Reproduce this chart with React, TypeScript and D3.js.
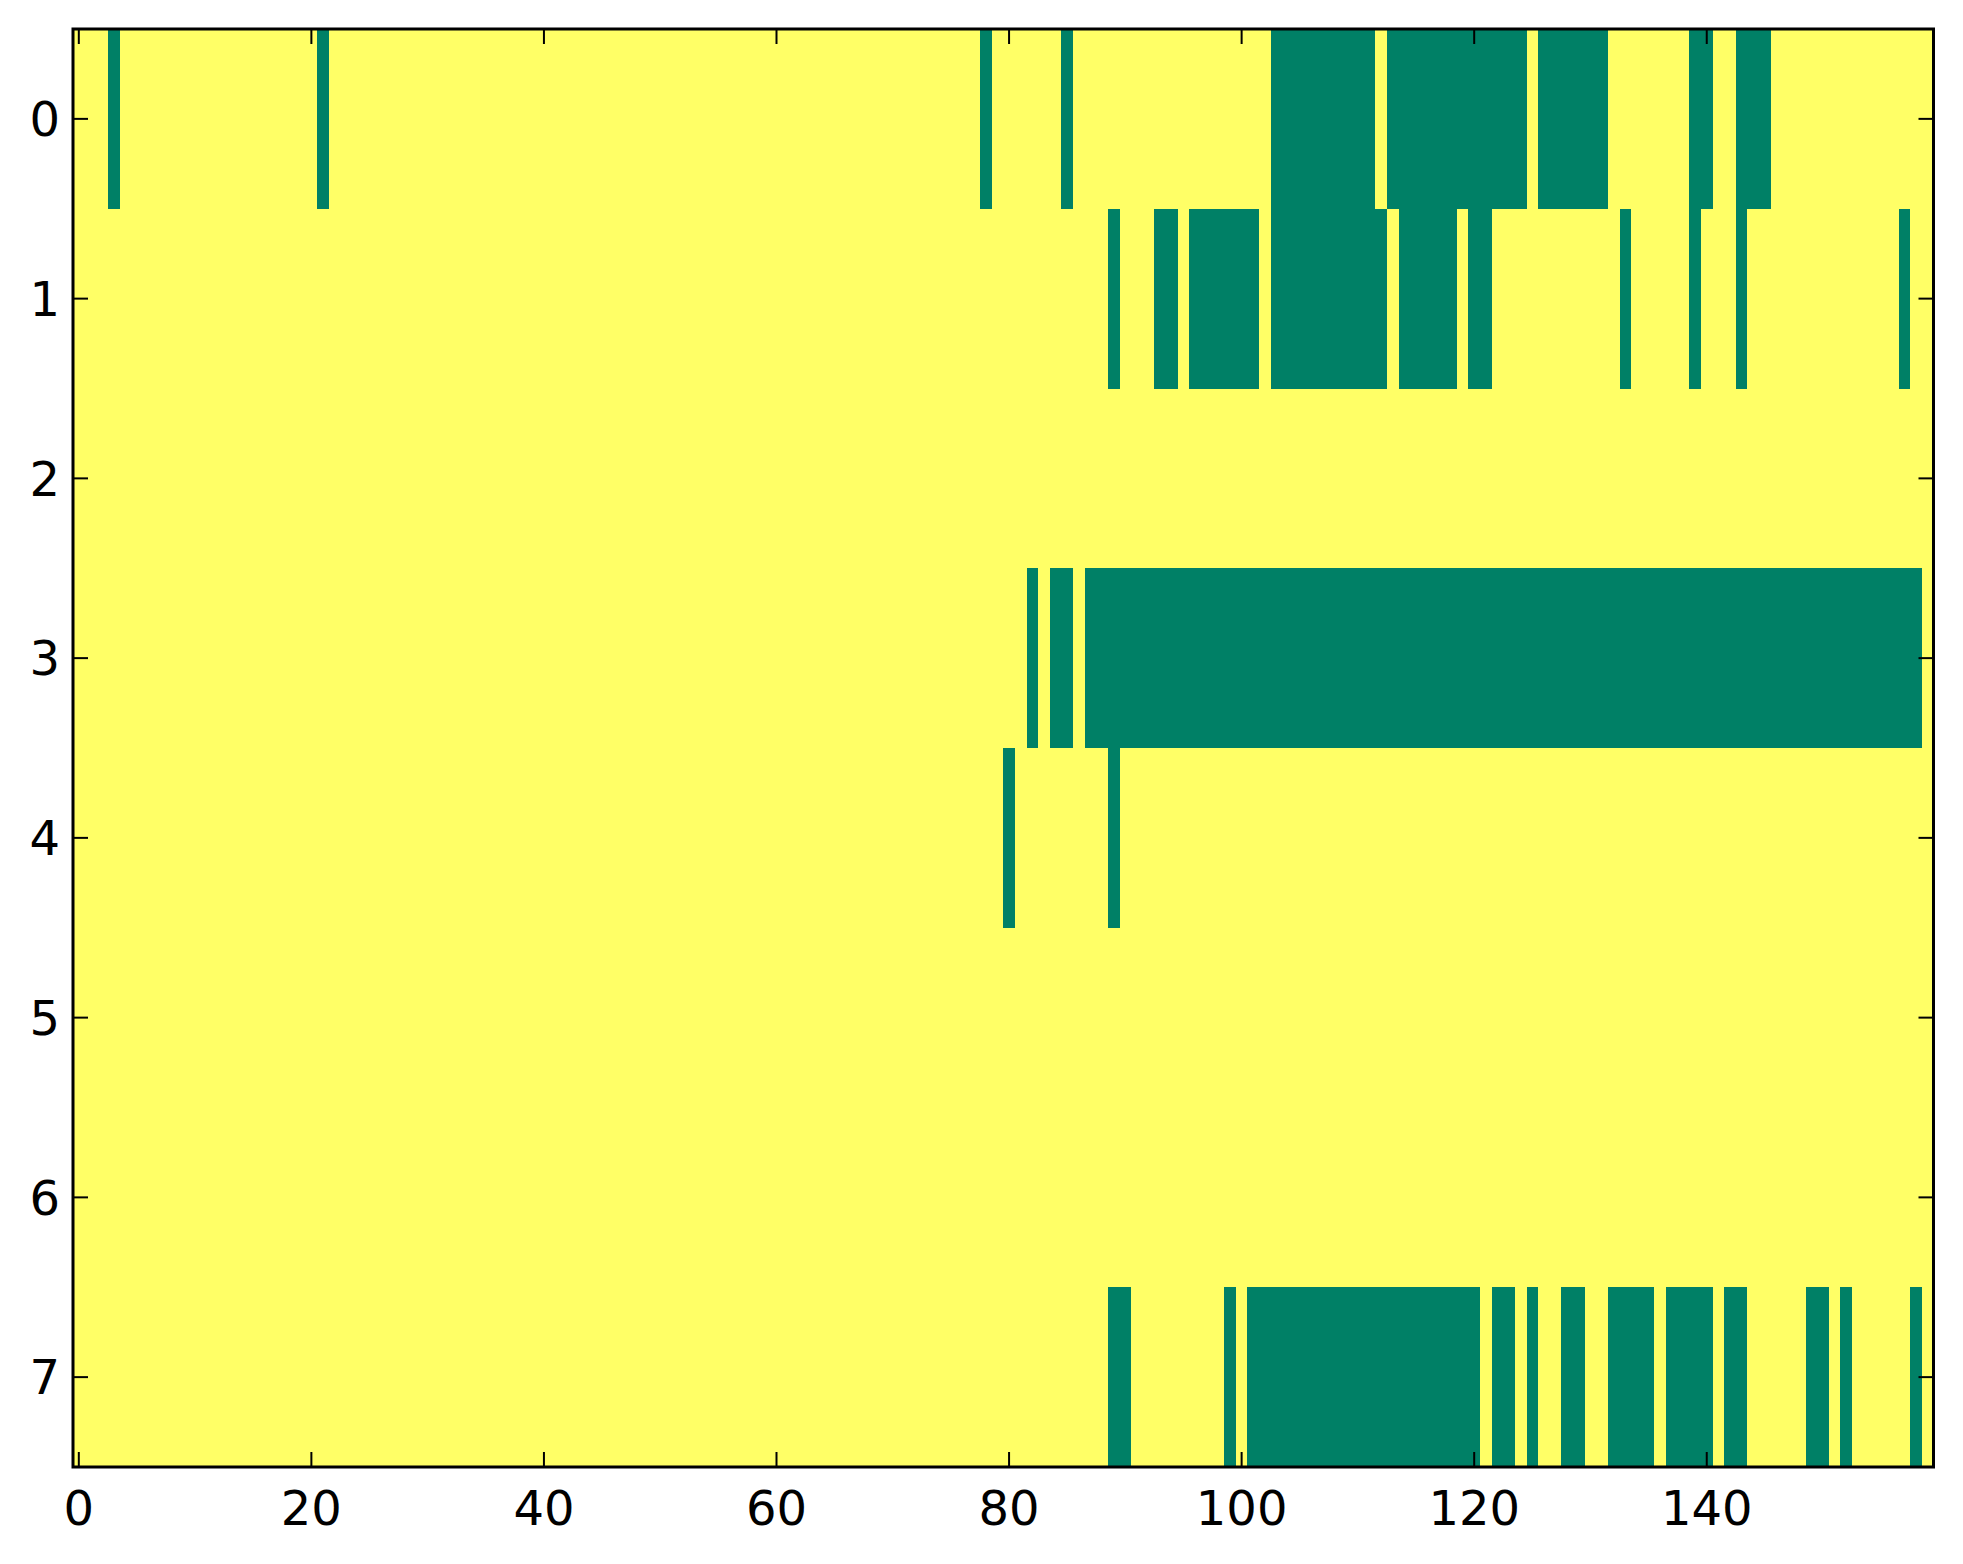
import React from 'react';
import * as d3 from 'd3';

const N_COLS = 160;
const rowLabels = [0, 1, 2, 3, 4, 5, 6, 7];
const xTicks = [0, 20, 40, 60, 80, 100, 120, 140];

// runs of columns with value 0 (green) per row, [start, end] inclusive
const row0 = [[3, 3], [21, 21], [78, 78], [85, 85], [103, 111], [113, 124], [126, 131], [139, 140], [143, 145]];
const row1 = [[89, 89], [93, 94], [96, 101], [103, 112], [114, 118], [120, 121], [133, 133], [139, 139], [143, 143], [157, 157]];
const row2: number[][] = [];
const row3 = [[82, 82], [84, 85], [87, 158]];
const row4 = [[80, 80], [89, 89]];
const row5: number[][] = [];
const row6: number[][] = [];
const row7 = [[89, 90], [99, 99], [101, 120], [122, 123], [125, 125], [128, 129], [132, 135], [137, 140], [142, 143], [149, 150], [152, 152], [158, 158]];
const zeroRuns = [row0, row1, row2, row3, row4, row5, row6, row7];

export default function App() {
  const W = 1963, H = 1564;
  const left = 73, right = 1933.5, top = 29, bottom = 1467;
  const x = d3.scaleLinear().domain([-0.5, N_COLS - 0.5]).range([left, right]);
  const y = d3.scaleLinear().domain([-0.5, 7.5]).range([top, bottom]);
  const color = (v: number) => (v === 0 ? '#008066' : '#ffff66');

  const matrix = rowLabels.map((r) => {
    const a = new Array(N_COLS).fill(1);
    zeroRuns[r].forEach(([s, e]) => {
      for (let c = s; c <= e; c++) a[c] = 0;
    });
    return a;
  });

  const tickLen = 15;
  const font = 'DejaVu Sans, sans-serif';

  return (
    <div style={{ position: 'absolute', left: 0, top: 0 }}>
      <svg width={W} height={H} style={{ display: 'block', background: '#fff' }}>
        <g shapeRendering="crispEdges">
          {matrix.map((rowVals, r) =>
            rowVals.map((v, c) => (
              <rect
                key={`${r}-${c}`}
                x={x(c - 0.5)}
                y={y(r - 0.5)}
                width={x(c + 0.5) - x(c - 0.5) + 0.5}
                height={y(r + 0.5) - y(r - 0.5) + 0.5}
                fill={color(v)}
              />
            ))
          )}
        </g>
        {/* x ticks */}
        {xTicks.map((t) => (
          <g key={`xt${t}`}>
            <line x1={x(t)} x2={x(t)} y1={bottom} y2={bottom - tickLen} stroke="#000" strokeWidth={2} />
            <line x1={x(t)} x2={x(t)} y1={top} y2={top + tickLen} stroke="#000" strokeWidth={2} />
            <text x={x(t)} y={bottom + 58} textAnchor="middle" fontFamily={font} fontSize={48} fill="#000">
              {t}
            </text>
          </g>
        ))}
        {/* y ticks */}
        {rowLabels.map((r) => (
          <g key={`yt${r}`}>
            <line x1={left} x2={left + tickLen} y1={y(r)} y2={y(r)} stroke="#000" strokeWidth={2} />
            <line x1={right} x2={right - tickLen} y1={y(r)} y2={y(r)} stroke="#000" strokeWidth={2} />
            <text x={60} y={y(r)} dy="0.36em" textAnchor="end" fontFamily={font} fontSize={48} fill="#000">
              {r}
            </text>
          </g>
        ))}
        <rect x={left} y={top} width={right - left} height={bottom - top} fill="none" stroke="#000" strokeWidth={3} />
      </svg>
    </div>
  );
}
